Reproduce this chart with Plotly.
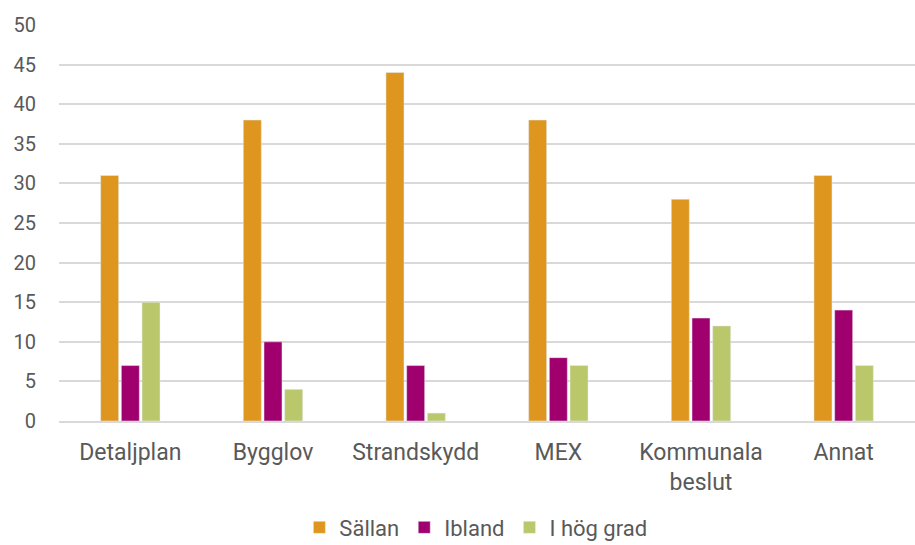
import plotly.graph_objects as go

categories = ["Detaljplan", "Bygglov", "Strandskydd", "MEX", "Kommunala<br>beslut", "Annat"]
sallan = [31, 38, 44, 38, 28, 31]
ibland = [7, 10, 7, 8, 13, 14]
hog_grad = [15, 4, 1, 7, 12, 7]
y_ticks = [0, 5, 10, 15, 20, 25, 30, 35, 40, 45, 50]

fig = go.Figure()
fig.add_trace(go.Bar(name="Sällan", x=categories, y=sallan, marker_color="#DE961E"))
fig.add_trace(go.Bar(name="Ibland", x=categories, y=ibland, marker_color="#A0006E"))
fig.add_trace(go.Bar(name="I hög grad", x=categories, y=hog_grad, marker_color="#BBC76B"))

fig.update_layout(
    width=915, height=545,
    barmode="group", bargap=0.565, bargroupgap=0.13,
    plot_bgcolor="white", paper_bgcolor="white",
    margin=dict(l=59, r=0, t=25, b=124, autoexpand=False),
    font=dict(family="Roboto", size=21, color="#595959"),
    legend=dict(orientation="h", x=0.487, xanchor="center", y=0.032, yanchor="middle",
                yref="container", font=dict(size=22), itemwidth=30),
    xaxis=dict(showline=True, linecolor="#D9D9D9", linewidth=1.5, ticks="",
               ticklabelstandoff=10, tickfont=dict(size=23)),
    yaxis=dict(range=[0, 50], tickvals=y_ticks, showgrid=True, gridcolor="#D9D9D9",
               gridwidth=1.5, zeroline=False, ticks="", ticklabelstandoff=22,
               tickfont=dict(size=20)),
)

fig.write_html("out.html", config={"displayModeBar": False},
               post_script="document.body.style.margin='0';")
